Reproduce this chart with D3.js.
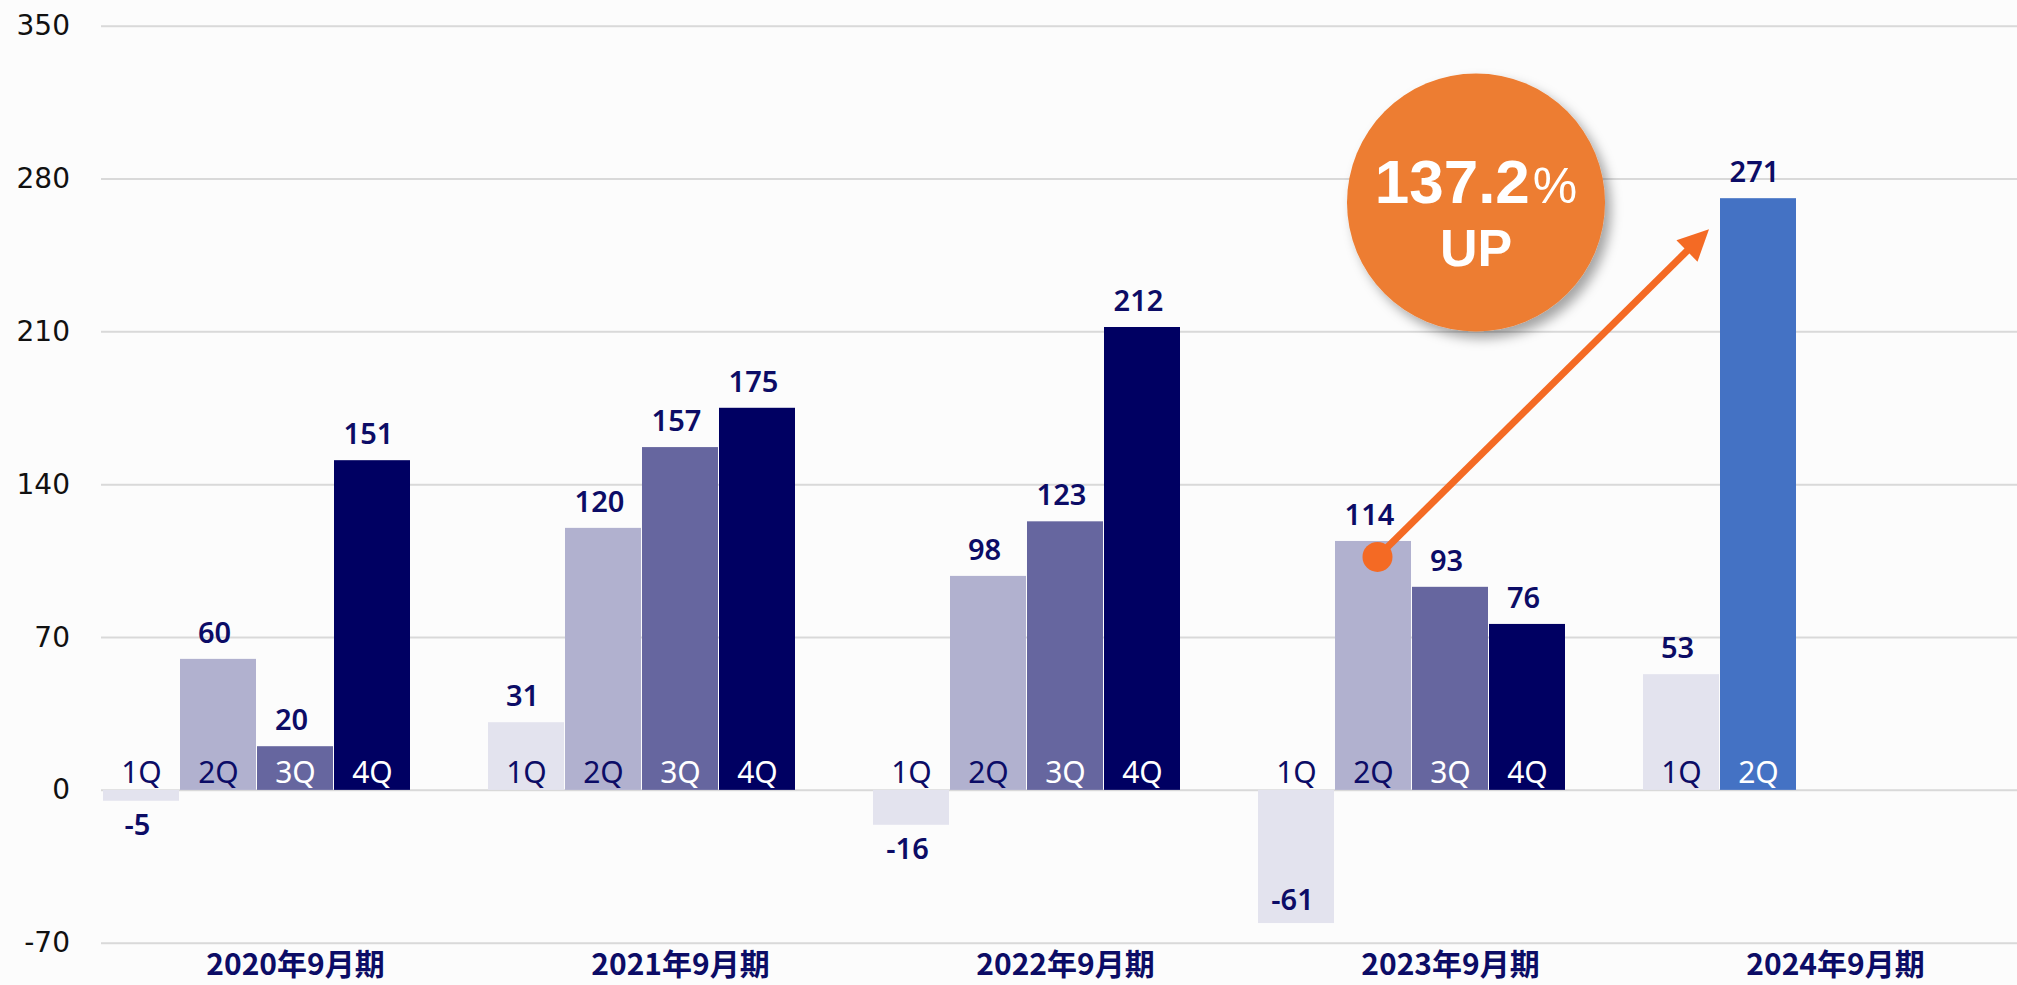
<!DOCTYPE html>
<html>
<head>
<meta charset="utf-8">
<script src="https://cdn.jsdelivr.net/npm/d3@7"></script>
<style>
  html, body { margin: 0; padding: 0; background: #fcfcfc; }
  svg { display: block; }
</style>
</head>
<body>
<svg id="chart" width="2017" height="985"></svg>
<script>
// ---- data ----
const years = ['2020年9月期', '2021年9月期', '2022年9月期', '2023年9月期', '2024年9月期']
const quarters = ['1Q', '2Q', '3Q', '4Q']
const q1 = [-5, 31, -16, -61, 53]
const q2 = [60, 120, 98, 114, 271]
const q3 = [20, 157, 123, 93, null]
const q4 = [151, 175, 212, 76, null]
const yTicks = [-70, 0, 70, 140, 210, 280, 350]
const upText = '137.2'

const series = [q1, q2, q3, q4]
const barColors = ['#e3e3ee', '#b1b1cf', '#66669f', '#000062']
const qTextColors = ['#0c0c66', '#0c0c66', '#ffffff', '#ffffff']
const latestColor = '#4472c4'
const navy = '#0c0c66'

const svg = d3.select('#chart')
const W = +svg.attr('width')

// ========= SCALES =========
const y = d3.scaleLinear().domain([-70, 350]).range([942.7, 25.7])
const x0 = d3.scaleBand().domain(years).range([103, 2028]).padding(0)
// 5 slots per year: 4 quarters + one empty slot
const x1 = d3.scaleBand().domain([0, 1, 2, 3, 4]).range([0, x0.bandwidth()]).padding(0)

// ========= DEFS =========
const defs = svg.append('defs')
const shadow = defs.append('filter').attr('id', 'shadow')
    .attr('x', '-30%').attr('y', '-30%').attr('width', '160%').attr('height', '160%')
shadow.append('feDropShadow')
    .attr('dx', 6).attr('dy', 7).attr('stdDeviation', 6)
    .attr('flood-color', '#000').attr('flood-opacity', 0.35)

// ========= GRID / Y AXIS =========
const yAxis = svg.append('g')
    .attr('transform', 'translate(101,0)')
    .call(d3.axisLeft(y).tickValues(yTicks).tickFormat(d => String(d)).tickSize(-(W - 101)).tickPadding(31))
yAxis.select('.domain').remove()
yAxis.selectAll('line').attr('stroke', '#d9d9d9').attr('stroke-width', 2)
yAxis.selectAll('text')
    .attr('font-family', 'DejaVu Sans, sans-serif')
    .attr('font-size', 28)
    .attr('fill', '#111')

// ========= BARS =========
const cells = []
years.forEach((yr, i) => {
    series.forEach((s, q) => {
        if (s[i] == null) return
        cells.push({ year: yr, yi: i, q, value: s[i] })
    })
})

const barColor = d => (d.yi === years.length - 1 && d.q === 1) ? latestColor : barColors[d.q]
const qTextColor = d => (d.yi === years.length - 1 && d.q === 1) ? '#ffffff' : qTextColors[d.q]
const cx = d => x0(d.year) + x1(d.q) + x1.bandwidth() / 2

const bars = svg.append('g').attr('class', 'bars')
bars.selectAll('rect')
    .data(cells)
    .join('rect')
    .attr('x', d => x0(d.year) + x1(d.q))
    .attr('width', x1.bandwidth() - 1)
    .attr('y', d => y(Math.max(0, d.value)))
    .attr('height', d => Math.abs(y(d.value) - y(0)))
    .attr('fill', barColor)

// quarter names sitting on the zero line
bars.selectAll('text.qname')
    .data(cells)
    .join('text')
    .attr('class', 'qname')
    .attr('x', d => cx(d))
    .attr('y', y(0) - 7)
    .attr('text-anchor', 'middle')
    .attr('font-family', 'Noto Sans, sans-serif')
    .attr('font-size', 30)
    .attr('fill', qTextColor)
    .text(d => quarters[d.q])

// value labels
bars.selectAll('text.val')
    .data(cells)
    .join('text')
    .attr('class', 'val')
    .attr('x', d => cx(d) - 4)
    .attr('y', d => d.value >= 0
        ? y(d.value) - 16
        : Math.min(y(d.value) + 34, y(-70) - 33))
    .attr('text-anchor', 'middle')
    .attr('font-family', 'Noto Sans, sans-serif')
    .attr('font-weight', 600)
    .attr('font-size', 29)
    .attr('fill', navy)
    .text(d => d.value)

// year labels
svg.append('g').selectAll('text')
    .data(years)
    .join('text')
    .attr('x', d => x0(d) + x0.bandwidth() / 2)
    .attr('y', 975)
    .attr('text-anchor', 'middle')
    .attr('font-family', 'Noto Sans CJK JP, sans-serif')
    .attr('font-weight', 700)
    .attr('font-size', 30)
    .attr('fill', navy)
    .text(d => d)

// ========= ARROW =========
const arrowColor = '#f46a24'
const last = years.length - 1
const sx = x0(years[last - 1]) + x1(1) + x1.bandwidth() / 2 + 4
const sy = y(q2[last - 1]) + 16
const tx = x0(years[last]) + x1(1) - 11
const ty = y(q2[last]) + 31
const len = Math.hypot(tx - sx, ty - sy)
const ux = (tx - sx) / len, uy = (ty - sy) / len
const headLen = 31, headHalf = 15
const bx = tx - ux * headLen, by = ty - uy * headLen

const arrow = svg.append('g')
arrow.append('line')
    .attr('x1', sx).attr('y1', sy)
    .attr('x2', bx + ux * 2).attr('y2', by + uy * 2)
    .attr('stroke', arrowColor).attr('stroke-width', 7)
arrow.append('polygon')
    .attr('points', [[tx, ty], [bx - uy * headHalf, by + ux * headHalf], [bx + uy * headHalf, by - ux * headHalf]].join(' '))
    .attr('fill', arrowColor)
arrow.append('circle')
    .attr('cx', sx).attr('cy', sy).attr('r', 15)
    .attr('fill', arrowColor)

// ========= BADGE =========
const badge = svg.append('g')
    .attr('transform', `translate(${x0(years[last - 1]) + 218},${y(269)})`)
badge.append('circle')
    .attr('r', 129)
    .attr('fill', '#ed7d31')
    .attr('filter', 'url(#shadow)')
const t1 = badge.append('text')
    .attr('y', 0)
    .attr('text-anchor', 'middle')
    .attr('font-family', 'Liberation Sans, Arial, sans-serif')
    .attr('fill', '#ffffff')
t1.append('tspan').attr('font-size', 62).attr('font-weight', 700).text(upText)
t1.append('tspan').attr('font-size', 50).attr('dx', 3).text('%')
badge.append('text')
    .attr('y', 63)
    .attr('text-anchor', 'middle')
    .attr('font-family', 'Liberation Sans, Arial, sans-serif')
    .attr('font-weight', 700)
    .attr('font-size', 52)
    .attr('fill', '#ffffff')
    .text('UP')
</script>
</body>
</html>
